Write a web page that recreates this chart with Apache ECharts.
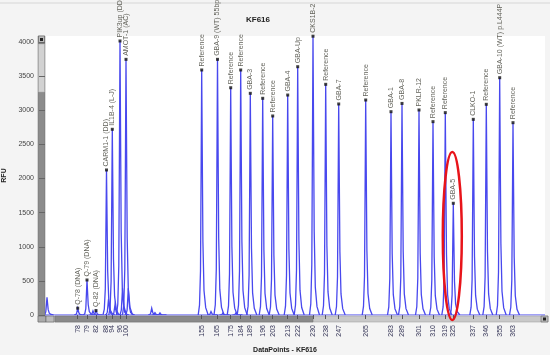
<!DOCTYPE html>
<html><head><meta charset="utf-8">
<script src="https://cdn.jsdelivr.net/npm/echarts@6/dist/echarts.min.js"></script>
<style>html,body{margin:0;padding:0;background:#f4f4f4}#c{width:550px;height:355px}</style>
</head><body><div id="c"></div>
<script>
// Labeled peaks (x in data-point units, height in RFU)
const peakPos = [327, 420, 510, 615, 673, 750, 810, 1567, 1725, 1857, 1957, 2053, 2177, 2277, 2427, 2527, 2680, 2807, 2937, 3207, 3460, 3570, 3740, 3880, 4003, 4083, 4283, 4413, 4547, 4680];
const peakHeight = [100, 513, 65, 2125, 2721, 4015, 3746, 3590, 3746, 3330, 3590, 3248, 3175, 2916, 3223, 3638, 4085, 3380, 3092, 3150, 2979, 3100, 3004, 2833, 2965, 1637, 2867, 3087, 3477, 2818];
const peakLabel = ["Q-78 (DNA)", "Q-79 (DNA)", "Q-82 (DNA)", "CARM1-1 (DD)", "IL1B-4 (L-J)", "PIK3up (DD)", "AMOT-1 (AC)", "Reference", "GBA-9 (WT) 55bp-del", "Reference", "Reference", "GBA-3", "Reference", "Reference", "GBA-4", "GBA-Up", "CKS1B-2", "Reference", "GBA-7", "Reference", "GBA-1", "GBA-8", "PKLR-12", "Reference", "Reference", "GBA-5", "CLKO-1", "Reference", "GBA-10 (WT) p.L444P", "Reference"];
const sizeLabel = ["78", "79", "82", "88", "94", "96", "100", "155", "165", "175", "184", "189", "196", "203", "213", "222", "230", "238", "247", "265", "283", "289", "301", "310", "319", "325", "337", "346", "355", "363"];
// Unlabeled minor peaks / shoulders
const minorPos = [20, 480, 635, 700, 775, 833, 1067, 1100, 1150, 1660, 1780, 1910];
const minorHeight = [260, 60, 230, 150, 390, 390, 100, 35, 30, 50, 30, 30];
// Axis ticks
const rfuTicks = [0, 500, 1000, 1500, 2000, 2500, 3000, 3500, 4000];
const xRange = [0, 5000];
const rfuMax = 4088;

const chart = echarts.init(document.getElementById('c'), null, {renderer: 'canvas'});
const font = '"Liberation Sans", Arial, sans-serif';

const allPeaks = [];
peakPos.forEach((p, i) => allPeaks.push([p, peakHeight[i]]));
minorPos.forEach((p, i) => allPeaks.push([p, minorHeight[i]]));

// peak shape profile (pixel dx, fraction of height) -- a drawing style
const shape = [[-3.5,0],[-2.2,0.04],[-1.2,0.18],[-0.5,0.65],[0,1],[0.5,0.7],[1.2,0.3],[2.3,0.1],[4,0.03],[6.5,0]];

const option = {
  animation: false,
  backgroundColor: '#f4f4f4',
  grid: {left: 45, right: 5, top: 36, bottom: 40, containLabel: false, outerBoundsMode: 'none',
    show: true, backgroundColor: '#ffffff', borderWidth: 0},
  xAxis: {
    type: 'value', min: xRange[0], max: xRange[1], offset: 7,
    axisLine: {show: false},
    splitLine: {show: false},
    axisTick: {show: true, length: 4, customValues: peakPos, lineStyle: {color: '#555', width: 1}},
    axisLabel: {show: true, customValues: peakPos, rotate: 90, margin: 3, fontSize: 7, color: '#335', fontFamily: font,
      formatter: v => { const i = peakPos.indexOf(v); return i >= 0 ? sizeLabel[i] : ''; }},
    name: 'DataPoints - KF616', nameLocation: 'middle', nameGap: 25,
    nameTextStyle: {fontSize: 7, fontWeight: 'bold', color: '#222', fontFamily: font, padding: [0, 20, 0, 0]}
  },
  yAxis: {
    type: 'value', min: 0, max: rfuMax, offset: 8,
    axisLine: {show: false},
    splitLine: {show: false},
    axisTick: {show: true, length: 6, customValues: rfuTicks, lineStyle: {color: '#666'}},
    axisLabel: {show: true, customValues: rfuTicks, margin: 3, fontSize: 7, color: '#444', fontFamily: font,
      formatter: v => String(v)},
    name: 'RFU', nameLocation: 'middle', nameGap: 26, nameRotate: 90,
    nameTextStyle: {fontSize: 7, fontWeight: 'bold', color: '#222', fontFamily: font}
  },
  series: [
    {
      type: 'line', data: [[xRange[0], 0], [xRange[1], 0]], symbol: 'none',
      lineStyle: {color: '#4444ee', width: 1.2}, z: 2
    },
    {
      type: 'custom', data: allPeaks, z: 3, clip: true,
      renderItem: (params, api) => {
        const top = api.coord([api.value(0), api.value(1)]);
        const base = api.coord([api.value(0), 0]);
        const hpx = base[1] - top[1];
        const pts = shape.map(s => [top[0] + s[0], base[1] - hpx * s[1]]);
        return {type: 'polyline', shape: {points: pts}, style: {stroke: '#4848ee', lineWidth: 1.3, fill: null}};
      }
    },
    {
      type: 'scatter', z: 5,
      data: peakPos.map((p, i) => ({name: peakLabel[i], value: [p, peakHeight[i]]})),
      symbol: 'rect', symbolSize: 3, itemStyle: {color: '#111'},
      label: {show: true, formatter: p => p.name, position: 'top', distance: 2, rotate: 90,
        align: 'left', verticalAlign: 'middle', fontSize: 7, color: '#3a3a30', fontFamily: font}
    }
  ]
};
chart.setOption(option);

const g5 = peakLabel.indexOf('GBA-5');
const cx = chart.convertToPixel({gridIndex: 0}, [peakPos[g5], 0])[0] - 1;

chart.setOption({
  graphic: [
    {type: 'line', shape: {x1: 0, y1: 3, x2: 550, y2: 3}, style: {stroke: '#d6d6d6', lineWidth: 1}, silent: true},
    {type: 'text', x: 258, y: 16, style: {text: 'KF616', font: 'bold 8px ' + font, fill: '#222', textAlign: 'center'}},
    // vertical scrollbar
    {type: 'rect', shape: {x: 38, y: 36, width: 7, height: 280}, style: {fill: '#8c8c8c', stroke: '#6e6e6e', lineWidth: 0.5}},
    {type: 'rect', shape: {x: 38.5, y: 44, width: 6, height: 48}, style: {fill: '#d2d2d2', stroke: '#aaa', lineWidth: 0.5}},
    {type: 'rect', shape: {x: 38.5, y: 36, width: 6, height: 7}, style: {fill: '#bbb', stroke: '#555', lineWidth: 0.5}},
    {type: 'rect', shape: {x: 40, y: 38, width: 3, height: 3}, style: {fill: '#222'}},
    // horizontal scrollbar
    {type: 'rect', shape: {x: 38, y: 316, width: 510, height: 6}, style: {fill: '#c9c9c9', stroke: '#999', lineWidth: 0.5}},
    {type: 'rect', shape: {x: 55, y: 316, width: 258, height: 6}, style: {fill: '#8a8a8a', stroke: '#6e6e6e', lineWidth: 0.5}},
    {type: 'rect', shape: {x: 38, y: 316, width: 8, height: 6}, style: {fill: '#aaa', stroke: '#555', lineWidth: 0.5}},
    {type: 'rect', shape: {x: 46, y: 316, width: 8, height: 6}, style: {fill: '#bbb', stroke: '#555', lineWidth: 0.5}},
    {type: 'rect', shape: {x: 541, y: 316, width: 7, height: 6}, style: {fill: '#bbb', stroke: '#555', lineWidth: 0.5}},
    {type: 'rect', shape: {x: 543, y: 317.5, width: 3, height: 3}, style: {fill: '#222'}},
    // highlight ellipse
    {type: 'ellipse', shape: {cx: cx, cy: 236, rx: 9.5, ry: 84}, style: {stroke: '#e8141a', lineWidth: 2.5, fill: null}, z: 100}
  ]
});
</script></body></html>
